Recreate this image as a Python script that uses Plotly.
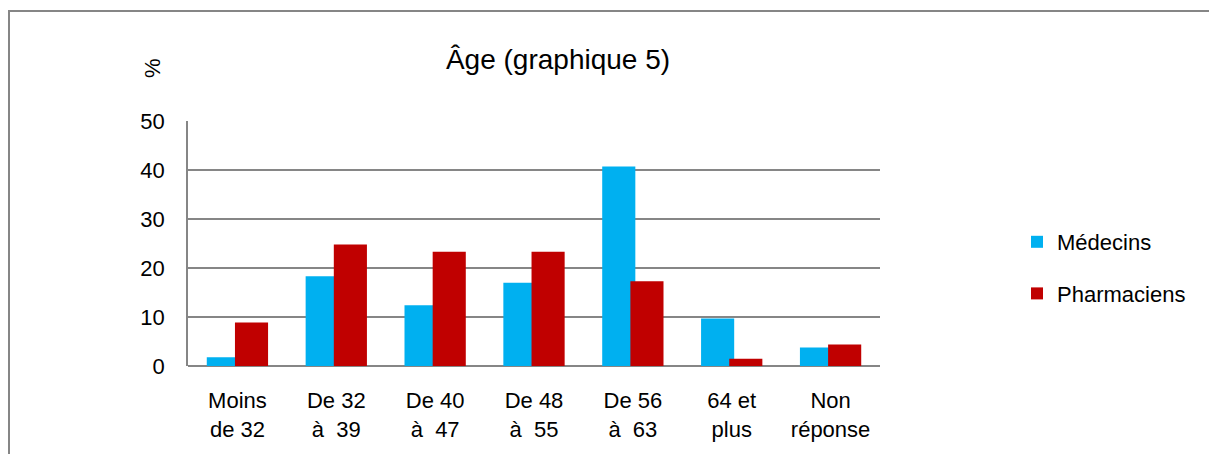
import plotly.graph_objects as go

# Data (%)
categories = ["Moins<br>de 32", "De 32<br>à  39", "De 40<br>à  47", "De 48<br>à  55",
              "De 56<br>à  63", "64 et<br>plus", "Non<br>réponse"]
medecins = [1.8, 18.3, 12.4, 17.0, 40.7, 9.7, 3.8]
pharmaciens = [8.9, 24.8, 23.3, 23.3, 17.3, 1.5, 4.4]

FONT = "Liberation Sans"
GRID = "#868686"

# page body has an 8px margin, so the figure is drawn 8px smaller
W, H = 1209, 446
L, T, PW, PH = 180, 113, 692, 245


def px(x):
    # screen x -> paper x
    return (x - 8 - L) / PW


def py(y):
    # screen y -> paper y
    return (T + PH - (y - 8)) / PH


fig = go.Figure()
fig.add_trace(go.Bar(
    x=list(range(len(categories))), y=medecins, name="Médecins",
    marker=dict(color="#00B0F0", line=dict(width=0)),
    width=0.335, offset=-0.31, legendgroup="a",
))
fig.add_trace(go.Bar(
    x=list(range(len(categories))), y=pharmaciens, name="Pharmaciens",
    marker=dict(color="#C00000", line=dict(width=0)),
    width=0.335, offset=-0.025, legendgroup="b",
))

fig.update_layout(
    width=W, height=H,
    barmode="overlay",
    plot_bgcolor="white", paper_bgcolor="white",
    margin=dict(l=L, r=W - L - PW, t=T, b=H - T - PH),
    font=dict(family=FONT, size=22, color="black"),
    title=dict(text="Âge (graphique 5)", x=(558 - 8) / W, xanchor="center",
               y=1 - (59 - 8) / H, yanchor="middle", font=dict(size=28)),
    showlegend=True,
    legend=dict(x=px(1017), y=py(268), xanchor="left", yanchor="middle",
                traceorder="grouped", tracegroupgap=20,
                font=dict(size=22), itemwidth=30),
    xaxis=dict(
        range=[-0.5, 6.5], tickmode="array",
        tickvals=list(range(len(categories))), ticktext=categories,
        showgrid=False, showline=False, zeroline=False,
        ticks="", tickfont=dict(size=22), ticklabelstandoff=19,
    ),
    yaxis=dict(
        range=[0, 50], dtick=10, showgrid=True, gridcolor=GRID, gridwidth=1.5,
        showline=True, linecolor=GRID, linewidth=1.5,
        zeroline=True, zerolinecolor=GRID, zerolinewidth=1.5,
        ticks="", tickfont=dict(size=22), ticklabelstandoff=17,
    ),
    annotations=[dict(
        text="%", textangle=-90, showarrow=False,
        xref="paper", yref="paper",
        x=px(152), y=py(68),
        xanchor="center", yanchor="middle", font=dict(size=22),
    )],
    shapes=[dict(
        type="rect", xref="paper", yref="paper",
        x0=px(9), x1=px(1230),
        y0=py(480), y1=py(11),
        line=dict(color=GRID, width=2), fillcolor="rgba(0,0,0,0)",
        layer="below",
    )],
)

fig.write_html("out.html")
